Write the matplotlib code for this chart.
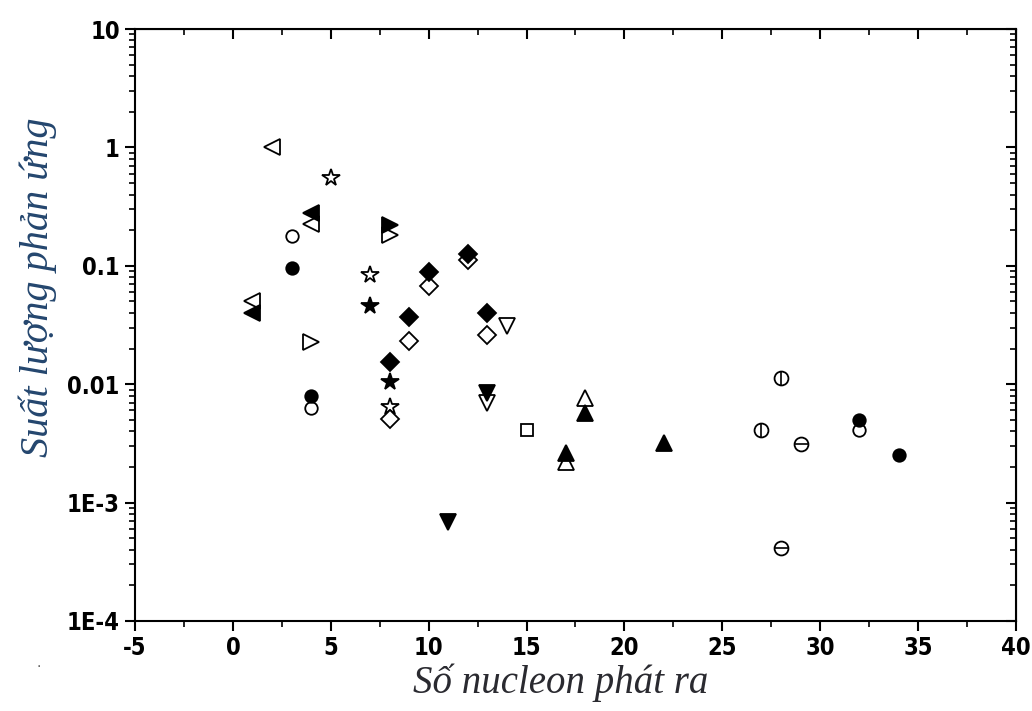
import matplotlib
matplotlib.use('Agg')
import matplotlib.pyplot as plt
from matplotlib.ticker import FixedLocator, FixedFormatter, MultipleLocator, LogLocator, NullFormatter
import matplotlib.font_manager as fm

plt.rcParams['axes.unicode_minus'] = False

# --- data ---
open_ltri_x = [2, 4, 1]
open_ltri_y = [1.0, 0.224, 0.050]
filled_ltri_x = [4, 1]
filled_ltri_y = [0.277, 0.040]

open_star_x = [5, 7, 8]
open_star_y = [0.55, 0.083, 0.0064]
filled_star_x = [7, 8]
filled_star_y = [0.046, 0.0104]

open_circle_x = [3, 4, 32]
open_circle_y = [0.177, 0.0063, 0.0041]
filled_circle_x = [3, 4, 32, 34]
filled_circle_y = [0.095, 0.0079, 0.0050, 0.0025]

open_rtri_x = [4, 8]
open_rtri_y = [0.0225, 0.181]
filled_rtri_x = [8]
filled_rtri_y = [0.219]

filled_diamond_x = [8, 9, 10, 12, 13]
filled_diamond_y = [0.0153, 0.037, 0.088, 0.127, 0.040]
open_diamond_x = [8, 9, 10, 12, 13]
open_diamond_y = [0.0051, 0.023, 0.068, 0.111, 0.026]

open_dtri_x = [14, 13]
open_dtri_y = [0.031, 0.0069]
filled_dtri_x = [13, 11]
filled_dtri_y = [0.0084, 0.00068]

open_square_x = [15]
open_square_y = [0.0041]

open_utri_x = [18, 17]
open_utri_y = [0.0076, 0.0022]
filled_utri_x = [18, 17, 22]
filled_utri_y = [0.0057, 0.0026, 0.0032]

circle_vline_x = [28, 27]
circle_vline_y = [0.0112, 0.0041]
circle_hline_x = [29, 28]
circle_hline_y = [0.0031, 0.00041]

ytick_vals = [1e-4, 1e-3, 0.01, 0.1, 1, 10]
ytick_labels = ['1E-4', '1E-3', '0.01', '0.1', '1', '10']

# look for a narrow bold face for the tick numbers, else plain bold sans
tick_prop = fm.FontProperties(family='DejaVu Sans', weight='bold', size=15)
for f in fm.fontManager.ttflist:
    if ('Narrow' in f.name or f.stretch == 'condensed') and f.weight in ('bold', 700) \
            and f.style == 'normal' and 'Sans' in f.name:
        tick_prop = fm.FontProperties(fname=f.fname, size=17)
        break
label_font = ['Liberation Serif', 'DejaVu Serif']

fig = plt.figure(figsize=(10.32, 7.11), dpi=100)
ax = fig.add_axes([0.1308, 0.1266, 0.8537, 0.8326])


def pts(x, y, marker, filled, ms=10):
    ax.plot(x, y, linestyle='none', marker=marker, markersize=ms,
            markerfacecolor='black' if filled else 'white',
            markeredgecolor='black', markeredgewidth=1.3, zorder=3)


pts(open_ltri_x, open_ltri_y, '<', False, 11)
pts(filled_ltri_x, filled_ltri_y, '<', True, 11)
pts(open_star_x, open_star_y, '*', False, 13)
pts(filled_star_x, filled_star_y, '*', True, 13)
pts(open_circle_x, open_circle_y, 'o', False, 9)
pts(filled_circle_x, filled_circle_y, 'o', True, 9)
pts(open_rtri_x, open_rtri_y, '>', False, 11)
pts(filled_rtri_x, filled_rtri_y, '>', True, 11)
pts(open_diamond_x, open_diamond_y, 'D', False, 9)
pts(filled_diamond_x, filled_diamond_y, 'D', True, 9)
pts(open_dtri_x, open_dtri_y, 'v', False, 11)
pts(filled_dtri_x, filled_dtri_y, 'v', True, 11)
pts(open_square_x, open_square_y, 's', False, 8)
pts(open_utri_x, open_utri_y, '^', False, 11)
pts(filled_utri_x, filled_utri_y, '^', True, 11)
pts(circle_vline_x, circle_vline_y, 'o', False, 10)
ax.plot(circle_vline_x, circle_vline_y, linestyle='none', marker='|', markersize=10,
        markeredgecolor='black', markeredgewidth=1.2, zorder=4)
pts(circle_hline_x, circle_hline_y, 'o', False, 10)
ax.plot(circle_hline_x, circle_hline_y, linestyle='none', marker='_', markersize=10,
        markeredgecolor='black', markeredgewidth=1.2, zorder=4)

ax.set_xlim(-5, 40)
ax.set_yscale('log')
ax.set_ylim(1e-4, 10)

ax.xaxis.set_major_locator(MultipleLocator(5))
ax.xaxis.set_minor_locator(MultipleLocator(2.5))
ax.yaxis.set_major_locator(FixedLocator(ytick_vals))
ax.yaxis.set_major_formatter(FixedFormatter(ytick_labels))
ax.yaxis.set_minor_locator(LogLocator(base=10, subs=range(2, 10)))
ax.yaxis.set_minor_formatter(NullFormatter())

for sp in ax.spines.values():
    sp.set_linewidth(1.5)

ax.tick_params(which='major', direction='out', length=7, width=1.5, pad=4)
ax.tick_params(which='minor', direction='out', length=4, width=1.2)
for lab in ax.get_xticklabels() + ax.get_yticklabels():
    lab.set_fontproperties(tick_prop)

# mirrored ticks pointing inward on top and right
top = ax.secondary_xaxis('top')
top.xaxis.set_major_locator(MultipleLocator(5))
top.xaxis.set_minor_locator(MultipleLocator(2.5))
top.tick_params(which='major', direction='in', length=7, width=1.5, labeltop=False)
top.tick_params(which='minor', direction='in', length=4, width=1.2)
right = ax.secondary_yaxis('right')
right.yaxis.set_major_locator(FixedLocator(ytick_vals))
right.yaxis.set_minor_locator(LogLocator(base=10, subs=range(2, 10)))
right.tick_params(which='major', direction='in', length=7, width=1.5, labelright=False)
right.tick_params(which='minor', direction='in', length=4, width=1.2, labelright=False)

ax.set_xlabel('Số nucleon phát ra', fontsize=28, style='italic',
              family=label_font, color='#2a2a30')
ax.xaxis.set_label_coords(0.483, -0.072)
ax.set_ylabel('Suất lượng phản ứng', fontsize=29, style='italic',
              family=label_font, color='#24466e')
ax.yaxis.set_label_coords(-0.089, 0.564)

fig.text(0.035, 0.062, '.', fontsize=10, color='#555555')

fig.savefig('out.png', dpi=100)
